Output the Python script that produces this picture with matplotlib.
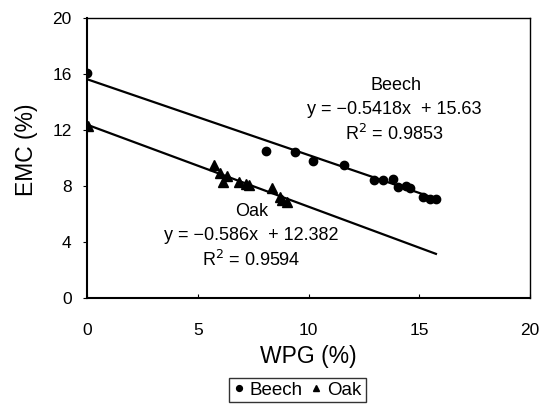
import numpy as np
import matplotlib.pyplot as plt

plt.rcParams['font.family'] = ['Liberation Sans', 'DejaVu Sans']

# Beech data (WPG %, EMC %)
beech_wpg = [0.0, 8.07, 9.39, 10.22, 11.58, 12.94, 13.35, 13.8, 14.06, 14.41, 14.59, 15.16, 15.47, 15.74]
beech_emc = [16.05, 10.52, 10.45, 9.76, 9.48, 8.43, 8.43, 8.52, 7.95, 8.0, 7.88, 7.19, 7.07, 7.07]

# Oak data
oak_wpg = [0.06, 5.75, 6.0, 6.33, 6.13, 6.86, 7.19, 7.31, 8.34, 8.7, 8.82, 9.05]
oak_emc = [12.31, 9.5, 8.9, 8.74, 8.31, 8.31, 8.12, 8.08, 7.88, 7.24, 7.0, 6.83]

# regression coefficients as printed on the chart
beech_fit = (-0.5418, 15.63, 0.9853)
oak_fit = (-0.586, 12.382, 0.9594)
fit_range = (0.0, 15.75)

fig = plt.figure(figsize=(5.42, 4.04), dpi=100)
ax = fig.add_axes([0.1605, 0.2624, 0.8175, 0.693])

ax.plot(beech_wpg, beech_emc, 'o', color='black', markersize=6, label='Beech', zorder=3)
ax.plot(oak_wpg, oak_emc, '^', color='black', markersize=6.5, label='Oak', zorder=3)

xx = np.array(fit_range)
ax.plot(xx, beech_fit[0] * xx + beech_fit[1], color='black', lw=1.6)
ax.plot(xx, oak_fit[0] * xx + oak_fit[1], color='black', lw=1.6)

fs = 13
ax.text(13.95, 15.2, 'Beech', ha='center', va='center', fontsize=fs)
ax.text(13.85, 13.45, 'y = \u22120.5418x  + 15.63', ha='center', va='center', fontsize=fs)
ax.text(13.85, 11.7, 'R$^2$ = 0.9853', ha='center', va='center', fontsize=fs)

ax.text(7.45, 6.2, 'Oak', ha='center', va='center', fontsize=fs)
ax.text(7.4, 4.45, 'y = \u22120.586x  + 12.382', ha='center', va='center', fontsize=fs)
ax.text(7.4, 2.7, 'R$^2$ = 0.9594', ha='center', va='center', fontsize=fs)

ax.set_xlim(0, 20)
ax.set_ylim(0, 20)
ax.set_xticks([0, 5, 10, 15, 20])
ax.set_yticks([0, 4, 8, 12, 16, 20])
ax.tick_params(axis='x', direction='in', length=3, pad=18, labelsize=12.5)
ax.tick_params(axis='y', direction='out', length=3, pad=8, labelsize=12.5)
for s in ax.spines.values():
    s.set_linewidth(1.0)
ax.spines['left'].set_linewidth(1.5)
ax.spines['bottom'].set_linewidth(1.5)

ax.set_xlabel('WPG (%)', fontsize=16.5, labelpad=5)
ax.set_ylabel('EMC (%)', fontsize=16.5)
ax.yaxis.set_label_coords(-0.11, 0.53)

leg = ax.legend(loc='upper center', bbox_to_anchor=(0.475, -0.285), ncol=2, frameon=True,
                fancybox=False, edgecolor='black', fontsize=13.5, handlelength=0.6,
                handletextpad=0.3, columnspacing=0.4, borderpad=0.2, markerscale=0.7,
                borderaxespad=0)
leg.get_frame().set_linewidth(1.0)

fig.savefig('out.png', dpi=100)
